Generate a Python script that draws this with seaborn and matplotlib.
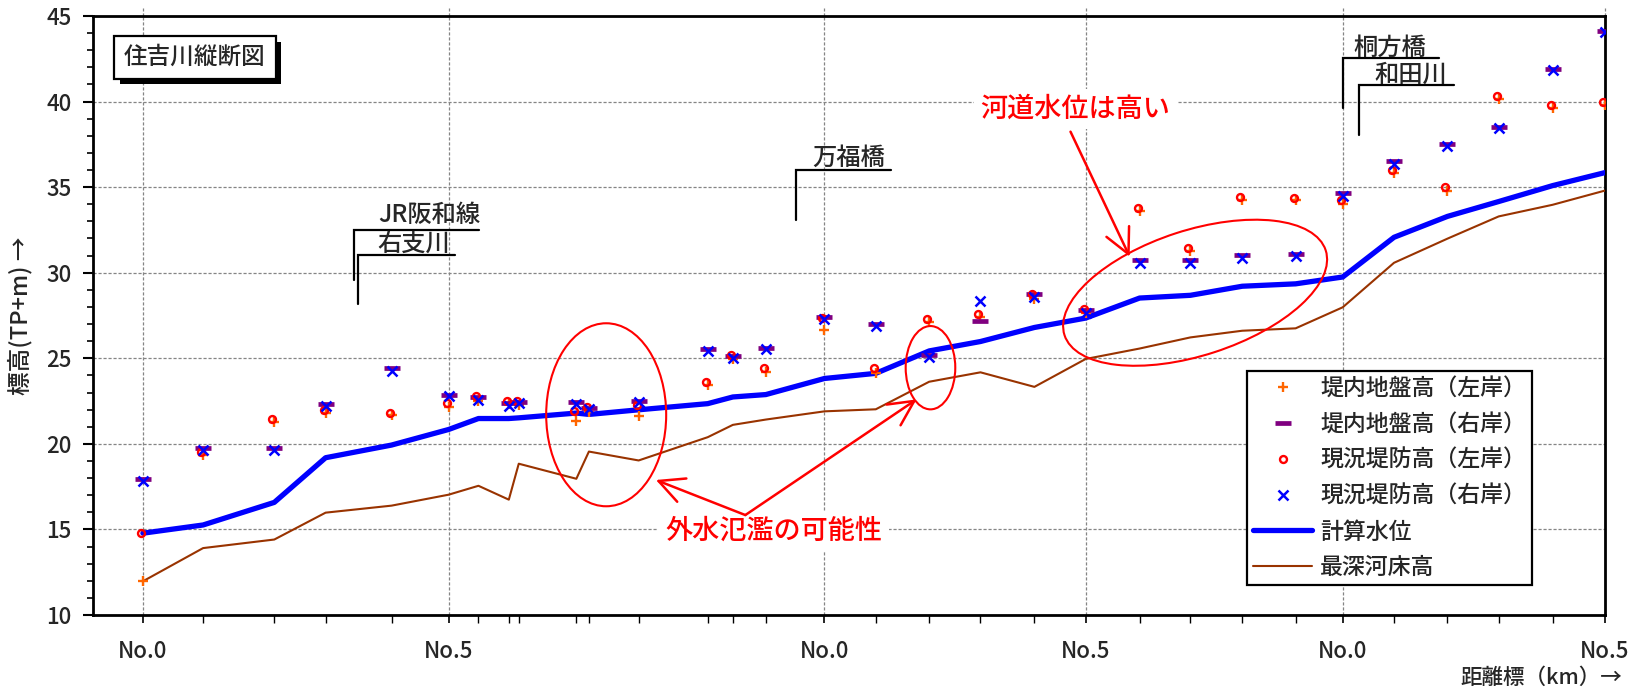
import matplotlib
matplotlib.use("Agg")
import matplotlib.pyplot as plt
import numpy as np
import pandas as pd
import seaborn as sns
from matplotlib.patches import Ellipse
from matplotlib.transforms import ScaledTranslation
from matplotlib import patheffects as pe

# ---- longitudinal profile data (distance in km, elevations in TP+m) ----
distance_km = [0.000, 0.115, 0.251, 0.349, 0.475, 0.584, 0.641, 0.699, 0.718,
               0.828, 0.852, 0.947, 1.079, 1.127, 1.190, 1.302, 1.400, 1.502,
               1.600, 1.703, 1.801, 1.904, 2.001, 2.100, 2.202, 2.292, 2.390,
               2.492, 2.590, 2.693, 2.793]
water_level = [14.78, 15.26, 16.58, 19.19, 19.93, 20.84, 21.48, 21.48, 21.52,
               21.80, 21.72, 21.99, 22.35, 22.74, 22.88, 23.82, 24.12, 25.43,
               25.98, 26.80, 27.35, 28.52, 28.68, 29.21, 29.35, 29.75, 32.07,
               33.29, 34.16, 35.09, 35.85]
bed_level = [11.97, 13.91, 14.41, 15.98, 16.39, 17.03, 17.55, 16.74, 18.84,
             17.96, 19.55, 19.03, 20.39, 21.11, 21.42, 21.90, 22.02, 23.63,
             24.18, 23.33, 24.96, 25.57, 26.22, 26.61, 26.75, 27.98, 30.58,
             31.99, 33.29, 33.97, 34.80]
levee_left = [14.80, 19.55, 21.44, 22.00, 21.83, 22.39, 22.77, 22.52, 22.52,
              21.94, 22.18, 22.27, 23.63, 25.18, 24.41, 27.35, 24.41, 27.31,
              27.59, 28.78, 27.90, 33.78, 31.42, 34.43, 34.39, 34.22, 36.00,
              34.99, 40.31, 39.81, 39.96]
levee_right = [17.85, 19.62, 19.62, 22.19, 24.26, 22.77, 22.58, 22.19, 22.37,
               22.31, 22.04, 22.43, 25.44, 24.99, 25.53, 27.31, 26.90, 25.06,
               28.37, 28.59, 27.65, 30.59, 30.55, 30.85, 30.98, 34.50, 36.38,
               37.41, 38.45, 41.86, 44.06]
ground_left = [11.97, 19.33, 21.28, 21.80, 21.67, 22.17, 22.48, 22.35, 22.29,
               21.36, 21.88, 21.65, 23.44, 24.95, 24.21, 26.67, 24.12, 27.12,
               27.39, 28.49, 27.65, 33.60, 31.24, 34.27, 34.27, 34.03, 35.80,
               34.80, 40.15, 39.65, 39.81]
ground_right = [17.92, 19.77, 19.77, 22.33, 24.42, 22.87, 22.73, 22.37, 22.42,
                22.43, 22.08, 22.52, 25.53, 25.11, 25.59, 27.39, 27.02, 25.20,
                27.16, 28.73, 27.82, 30.73, 30.73, 31.02, 31.12, 34.63, 36.52,
                37.52, 38.49, 41.93, 44.12]

station_ticks = [0.000, 0.584, 1.302, 1.801, 2.292, 2.793]
station_labels = ["No.0", "No.5", "No.0", "No.5", "No.0", "No.5"]

# landmark callouts: name, x of stem, stem bottom, bar height, bar end, text x, text baseline
landmarks = [
    ("JR阪和線", 0.4025, 29.57, 32.50, 0.643, 0.450, 32.96),
    ("右支川", 0.411, 28.17, 31.03, 0.597, 0.448, 31.27),
    ("万福橋", 1.2476, 33.08, 36.00, 1.429, 1.278, 36.29),
    ("桐方橋", 2.293, 39.61, 42.53, 2.475, 2.312, 42.72),
    ("和田川", 2.323, 38.05, 40.97, 2.504, 2.352, 41.14),
]

df = pd.DataFrame({
    "km": distance_km,
    "water": water_level,
    "bed": bed_level,
    "levee_left": levee_left,
    "levee_right": levee_right,
    "ground_left": ground_left,
    "ground_right": ground_right,
})

sns.set_theme(style="white")
plt.rcParams["font.family"] = ["Noto Sans CJK JP", "DejaVu Sans"]
plt.rcParams["font.weight"] = "medium"
plt.rcParams["axes.unicode_minus"] = False

fig = plt.figure(figsize=(16.32, 6.93), dpi=100)
ax = fig.add_axes([0.0568, 0.11255, 0.92665, 0.86436])

# profile lines
sns.lineplot(data=df, x="km", y="bed", ax=ax, color="#993300", linewidth=1.5,
             label="最深河床高", estimator=None, sort=False, zorder=3)
sns.lineplot(data=df, x="km", y="water", ax=ax, color="#0000FF", linewidth=3.8,
             label="計算水位", estimator=None, sort=False, zorder=3)

# point series
marker_specs = [
    ("ground_left", "堤内地盤高（左岸）", "+", "#FF6600", 7.5, 1.7),
    ("ground_right", "堤内地盤高（右岸）", "_", "#800080", 11, 3.4),
    ("levee_left", "現況堤防高（左岸）", "o", "#FF0000", 5, 1.7),
    ("levee_right", "現況堤防高（右岸）", "x", "#0000FF", 7, 1.8),
]
for col, label, mk, colr, ms, mew in marker_specs:
    sns.lineplot(data=df, x="km", y=col, ax=ax, color=colr, linestyle="",
                 marker=mk, markersize=ms, markeredgewidth=mew,
                 markeredgecolor=colr, markerfacecolor="none",
                 label=label, estimator=None, sort=False, zorder=4)

# circles sit slightly left of the crosses
for ln in ax.get_lines():
    if ln.get_label() == "現況堤防高（左岸）":
        ln.set_transform(ax.transData + ScaledTranslation(-0.02, 0, fig.dpi_scale_trans))

ax.set_xlim(-0.0959, 2.793)
ax.set_ylim(10, 45)
ax.set_xlabel("")
ax.set_ylabel("")

ax.set_xticks(station_ticks)
ax.set_xticklabels(station_labels)
ax.set_xticks(distance_km, minor=True)
ax.set_yticks(np.arange(10, 46, 5))
ax.set_yticks(np.arange(10, 46, 1), minor=True)

ax.tick_params(which="both", direction="out", bottom=True, left=True, color="black")
ax.tick_params(axis="x", which="major", length=6, width=1.2, pad=12, labelsize=16)
ax.tick_params(axis="x", which="minor", length=6, width=1.0)
ax.tick_params(axis="y", which="major", length=7, width=1.5, pad=8, labelsize=16)
ax.tick_params(axis="y", which="minor", length=4.5, width=1.2)

grid_kw = dict(color="#858585", linestyle=(0, (2.5, 1.5)), linewidth=0.9)
ax.xaxis.grid(True, which="major", **grid_kw)
ax.yaxis.grid(True, which="major", **grid_kw)
ax.set_axisbelow(True)
ax.vlines(station_ticks, 45, 45.47, colors="#858585", linestyles=(0, (2.5, 1.5)),
          linewidth=0.9, clip_on=False, zorder=0)

for s in ax.spines.values():
    s.set_linewidth(2.0)
    s.set_color("black")

# title box with drop shadow
title = ax.text(0.0995, 42.58, "住吉川縦断図", ha="center", va="center", fontsize=17,
                zorder=6, bbox=dict(boxstyle="square,pad=0.42", fc="white", ec="black", lw=1.6))
title.get_bbox_patch().set_path_effects([
    pe.SimplePatchShadow(offset=(4, -4), shadow_rgbFace="black", alpha=1.0),
    pe.Normal()])

# landmark callouts
for name, xs, ybot, ytop, xend, xt, ytxt in landmarks:
    ax.plot([xs, xs, xend], [ybot, ytop, ytop], color="black", linewidth=1.6,
            solid_joinstyle="miter", zorder=5)
    ax.text(xt, ytxt, name, ha="left", va="baseline", fontsize=17.5, zorder=5)

# highlighted zones
def ring(xc, yc, w_in, h_in, angle=0):
    tr = fig.dpi_scale_trans + ScaledTranslation(xc, yc, ax.transData)
    ax.add_patch(Ellipse((0, 0), w_in, h_in, angle=angle, transform=tr, fill=False,
                         edgecolor="#FF0000", linewidth=1.5, zorder=5))

ring(2.010, 28.83, 2.746, 1.25, 18)
ring(0.885, 21.70, 1.20, 1.83)
ring(1.5045, 24.45, 0.496, 0.833)

ax.text(1.600, 39.57, "河道水位は高い", color="#FF0000", fontsize=19.5, ha="left",
        va="center", zorder=5,
        bbox=dict(boxstyle="square,pad=0.25", fc="white", ec="none"))
ax.text(1.2048, 14.91, "外水氾濫の可能性", color="#FF0000", fontsize=19.5, ha="center",
        va="center", zorder=5,
        bbox=dict(boxstyle="square,pad=0.25", fc="white", ec="none"))

arrow_kw = dict(arrowstyle="->,head_length=18,head_width=9", mutation_scale=1,
                color="#FF0000", linewidth=1.8, shrinkA=0, shrinkB=0)
ax.annotate("", xy=(1.885, 30.94), xytext=(1.772, 38.24), arrowprops=arrow_kw, zorder=6)
ax.annotate("", xy=(0.980, 17.89), xytext=(1.1508, 15.84), arrowprops=arrow_kw, zorder=6)
ax.annotate("", xy=(1.478, 22.60), xytext=(1.1508, 15.84), arrowprops=arrow_kw, zorder=6)

# legend
handles, labels = ax.get_legend_handles_labels()
order = ["堤内地盤高（左岸）", "堤内地盤高（右岸）", "現況堤防高（左岸）",
         "現況堤防高（右岸）", "計算水位", "最深河床高"]
hmap = dict(zip(labels, handles))
leg = ax.legend([hmap[k] for k in order], order, loc="lower right",
                bbox_to_anchor=(0.9517, 0.0501), borderaxespad=0, fontsize=16.5,
                frameon=True, fancybox=False, framealpha=1, edgecolor="black",
                handlelength=2.6, handletextpad=0.35, labelspacing=0.56,
                borderpad=0.25, numpoints=1)
leg.get_frame().set_linewidth(1.6)
leg.set_zorder(7)

fig.text(20 / 1632, 1 - 316 / 693, "標高(TP+m) →", rotation=90, ha="center",
         va="center", fontsize=17)
fig.text(1622 / 1632, 1 - 677.5 / 693, "距離標（km）→", ha="right", va="center",
         fontsize=15.5)

fig.savefig("out.png", dpi=100)
